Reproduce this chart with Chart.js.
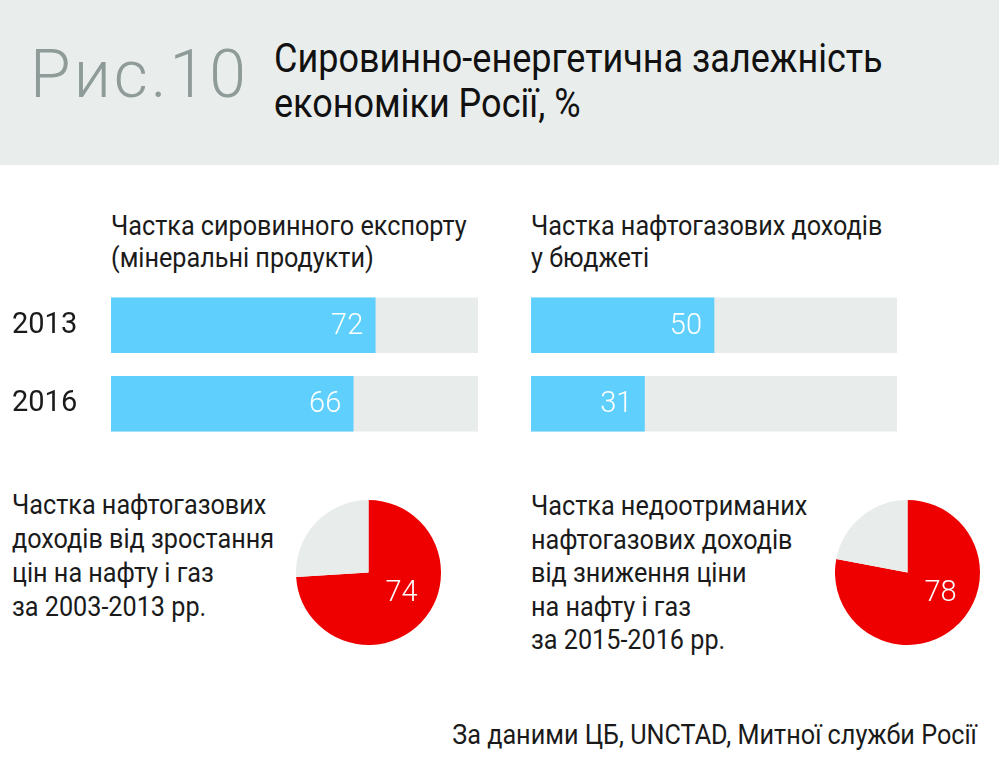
<!DOCTYPE html>
<html lang="uk">
<head>
  <meta charset="UTF-8" />
  <title>Рис.10 Сировинно-енергетична залежність економіки Росії</title>
  <script src="https://cdn.jsdelivr.net/npm/chart.js"></script>
  <style>
    body {
      margin: 0;
      width: 999px;
      height: 777px;
      background: #ffffff;
      color: #1a1a1a;
      font-family: Roboto, "Noto Sans", sans-serif;
      position: relative;
      overflow: hidden;
    }
    .header {
      position: absolute;
      left: 0; top: 0;
      width: 999px; height: 165px;
      background: #e9eeec;
    }
    .fig {
      position: absolute;
      left: 30px; top: 35px;
      font-size: 66px;
      line-height: 80px;
      font-weight: 300;
      letter-spacing: 3px;
      color: #8e9b98;
      white-space: nowrap;
    }
    .title {
      position: absolute;
      left: 274px; top: 36px;
      font-size: 40px;
      line-height: 45px;
      white-space: nowrap;
      color: #111;
      transform: scaleX(0.9);
      transform-origin: left top;
    }
    .txt {
      position: absolute;
      font-size: 28px;
      line-height: 32px;
      white-space: nowrap;
      transform: scaleX(0.9);
      transform-origin: left top;
    }
    .source {
      left: auto;
      right: 22px;
      transform-origin: right top;
    }
    .box { position: absolute; }
  </style>
</head>
<body>
  <div class="header"></div>
  <div class="fig">Рис.10</div>
  <div class="title">Сировинно-енергетична залежність<br>економіки Росії, %</div>

  <div class="txt" style="left:111px; top:210px;">Частка сировинного експорту<br>(мінеральні продукти)</div>
  <div class="txt" style="left:531px; top:210px;">Частка нафтогазових доходів<br>у бюджеті</div>

  <div class="box" style="left:12px; top:286px; width:466px; height:157px;"><canvas id="barLeft"></canvas></div>
  <div class="box" style="left:531px; top:286px; width:366px; height:157px;"><canvas id="barRight"></canvas></div>

  <div class="txt" style="left:12px; top:488px; line-height:34px;">Частка нафтогазових<br>доходів від зростання<br>цін на нафту і газ<br>за 2003-2013 рр.</div>
  <div class="txt" style="left:531px; top:489px; line-height:33.5px;">Частка недоотриманих<br>нафтогазових доходів<br>від зниження ціни<br>на нафту і газ<br>за 2015-2016 рр.</div>

  <div class="box" style="left:296px; top:500px; width:145px; height:145px;"><canvas id="pieLeft"></canvas></div>
  <div class="box" style="left:835px; top:500px; width:145px; height:145px;"><canvas id="pieRight"></canvas></div>

  <div class="txt source" style="top:719px;">За даними ЦБ, UNCTAD, Митної служби Росії</div>

  <script>
    // дані
    const years = ['2013', '2016'];
    const rawExport = [72, 66];      // частка сировинного експорту
    const oilGasBudget = [50, 31];   // частка нафтогазових доходів у бюджеті
    const fullScale = [100, 100];
    const pieGrowth = [74, 26];      // 2003-2013
    const pieLoss = [78, 22];        // 2015-2016

    const BLUE = '#5fd0fd';
    const TRACK = '#e8edeb';
    const RED = '#ee0000';

    Chart.defaults.font.family = 'Roboto, "Noto Sans", sans-serif';
    Chart.defaults.animation = false;

    // число всередині смуги, біля її кінця
    const barValues = {
      id: 'barValues',
      afterDatasetsDraw(chart) {
        const ctx = chart.ctx;
        const meta = chart.getDatasetMeta(0);
        ctx.save();
        ctx.fillStyle = '#ffffff';
        ctx.font = '300 29px Roboto, sans-serif';
        ctx.textAlign = 'right';
        ctx.textBaseline = 'middle';
        meta.data.forEach((bar, i) => {
          ctx.fillText(chart.data.datasets[0].data[i], bar.x - 12, bar.y + 1);
        });
        ctx.restore();
      }
    };

    function barChart(id, values, showYears) {
      const yAxis = {
        display: showYears,
        grid: { display: false },
        border: { display: false },
        ticks: {
          crossAlign: 'far',
          color: '#1a1a1a',
          font: { size: 29 }
        }
      };
      if (showYears) {
        yAxis.afterFit = axis => {
          axis.width = 99;
          axis.paddingTop = 0;
          axis.paddingBottom = 0;
        };
      }
      return new Chart(document.getElementById(id), {
        type: 'bar',
        data: {
          labels: years,
          datasets: [
            { data: values, backgroundColor: BLUE, barThickness: 55, grouped: false, borderWidth: 0 },
            { data: fullScale, backgroundColor: TRACK, barThickness: 55, grouped: false, borderWidth: 0 }
          ]
        },
        options: {
          indexAxis: 'y',
          responsive: true,
          maintainAspectRatio: false,
          layout: { padding: 0 },
          events: [],
          plugins: { legend: { display: false }, tooltip: { enabled: false } },
          scales: {
            x: { display: false, min: 0, max: 100 },
            y: yAxis
          }
        },
        plugins: [barValues]
      });
    }

    barChart('barLeft', rawExport, true);
    barChart('barRight', oilGasBudget, false);

    // підпис частки на круговій діаграмі
    const pieValue = {
      id: 'pieValue',
      afterDatasetsDraw(chart) {
        const arc = chart.getDatasetMeta(0).data[0];
        const r = arc.outerRadius;
        const ctx = chart.ctx;
        ctx.save();
        ctx.fillStyle = '#ffffff';
        ctx.font = '300 29px Roboto, sans-serif';
        ctx.textAlign = 'center';
        ctx.textBaseline = 'middle';
        ctx.fillText(chart.data.datasets[0].data[0], arc.x + r * 0.455, arc.y + r * 0.29);
        ctx.restore();
      }
    };

    function pieChart(id, values) {
      return new Chart(document.getElementById(id), {
        type: 'pie',
        data: {
          labels: ['', ''],
          datasets: [{ data: values, backgroundColor: [RED, TRACK], borderWidth: 0 }]
        },
        options: {
          responsive: true,
          maintainAspectRatio: false,
          layout: { padding: 0 },
          events: [],
          plugins: { legend: { display: false }, tooltip: { enabled: false } }
        },
        plugins: [pieValue]
      });
    }

    pieChart('pieLeft', pieGrowth);
    pieChart('pieRight', pieLoss);
  </script>
</body>
</html>
